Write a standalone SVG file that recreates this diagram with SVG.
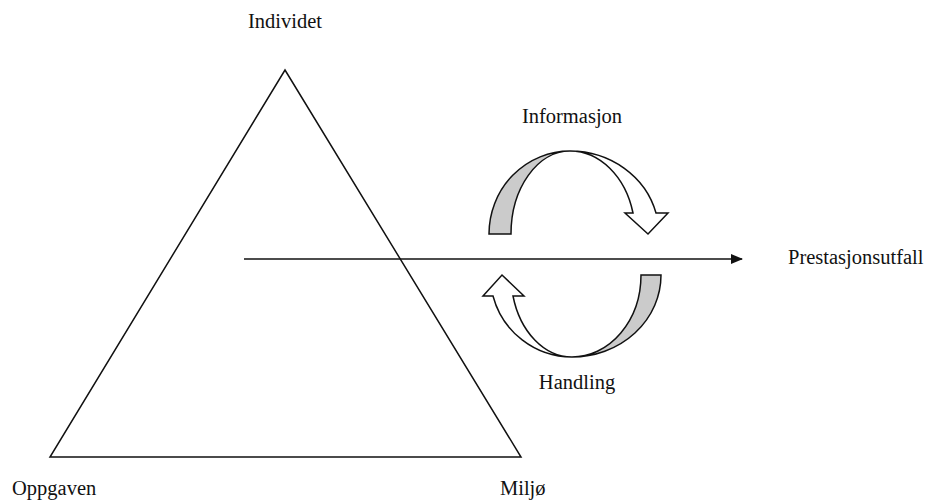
<svg xmlns="http://www.w3.org/2000/svg" width="928" height="500" viewBox="0 0 928 500">
<style>
.lbl{font-family:"Liberation Serif","Times New Roman",serif;font-size:20.5px;fill:#111}
.edge{fill:none;stroke:#111;stroke-width:1.5;stroke-linejoin:miter}
.gray{fill:#cbcbcb;stroke:#111;stroke-width:1.5;stroke-linejoin:miter}
.white{fill:#fff;stroke:#111;stroke-width:1.5;stroke-linejoin:miter}
</style>
<defs>
<marker id="ah" markerWidth="12" markerHeight="10" refX="11" refY="5" orient="auto" markerUnits="userSpaceOnUse">
<path d="M0,0 L12,5 L0,10 Z" fill="#111"/>
</marker>
</defs>
<rect width="928" height="500" fill="#fff"/>
<g id="triangle">
<path class="edge" d="M285,70 L521,457 L50,457 Z"/>
</g>
<g id="label-individet"><text class="lbl" x="248" y="28">Individet</text></g>
<g id="label-oppgaven"><text class="lbl" x="12" y="495">Oppgaven</text></g>
<g id="label-miljo"><text class="lbl" x="500" y="495">Miljø</text></g>
<g id="label-prestasjonsutfall"><text class="lbl" x="788" y="264">Prestasjonsutfall</text></g>
<g id="informasjon">
<path class="white" d="M570,151 A89 83 0 0 1 656,213 L668,213 L648,234 L625,213 L633,213 A65 83 0 0 0 570,151 Z"/>
<path class="gray" d="M489,234 A81 83 0 0 1 570,151 A59 83 0 0 0 511,234 Z"/>
<text class="lbl" x="572" y="123" text-anchor="middle">Informasjon</text>
</g>
<g id="handling">
<path class="white" d="M572,357 A82 82 0 0 1 493,296 L483,296 L502,275 L524,296 L513,296 A61 82 0 0 0 572,357 Z"/>
<path class="gray" d="M661,275 A89 82 0 0 1 572,357 A69 82 0 0 0 641,275 Z"/>
<text class="lbl" x="577" y="389" text-anchor="middle">Handling</text>
</g>
<g id="connectors">
<line class="edge" x1="244" y1="259" x2="742" y2="259" marker-end="url(#ah)"/>
</g>
</svg>
